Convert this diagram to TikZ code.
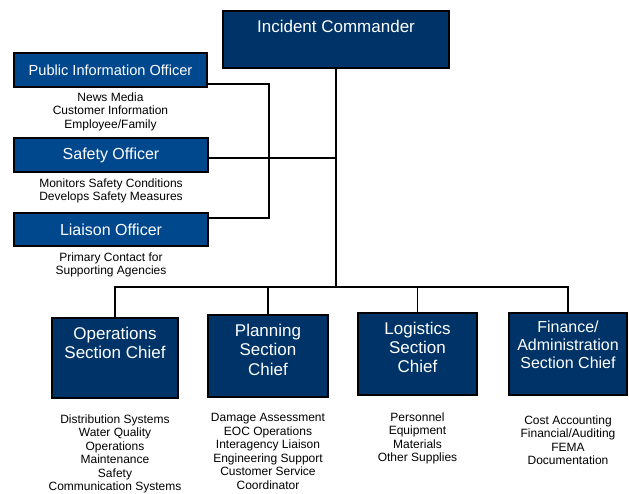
\documentclass[tikz,border=0pt]{standalone}
\usepackage{fontspec}
\setmainfont{Liberation Sans}
\usetikzlibrary{positioning}
\definecolor{chiefnavy}{RGB}{0,52,104}
\definecolor{officerblue}{RGB}{0,72,142}

\begin{document}
\begin{tikzpicture}[
    x=1pt, y=-1pt,
    link/.style={draw=black, line width=1.6pt},
    box/.style={draw=black, line width=1.8pt, inner sep=0pt, text=white},
    chief/.style={box, fill=chiefnavy},
    officer/.style={box, fill=officerblue, font=\fontsize{16}{18}\selectfont},
    title/.style={text=white, align=center, inner sep=0pt, font=\fontsize{17}{19.2}\selectfont},
    duties/.style={align=center, inner sep=0pt, font=\fontsize{12}{13.5}\selectfont},
    ]

\useasboundingbox (0,0) rectangle (629,493);

% command and staff
\node[chief, minimum width=226pt, minimum height=57pt] at (336,39.5) (ic) {};
\node[title, below=10pt of ic.north] (ic-title) {Incident Commander};

\node[officer, minimum width=193pt, minimum height=34pt,
    font=\fontsize{14.6}{17}\selectfont] at (110.5,70) (pio)
    {Public Information Officer};
\node[duties, below=4.5pt of pio] (pio-duties)
    {News Media\\Customer Information\\Employee/Family};

\node[officer, minimum width=194pt, minimum height=34pt] at (111,155) (safety)
    {Safety Officer};
\node[duties, below=5.5pt of safety] (safety-duties)
    {Monitors Safety Conditions\\Develops Safety Measures};

\node[officer, minimum width=194pt, minimum height=33pt] at (111,229.5) (liaison)
    {Liaison Officer};
\node[duties, below=5.5pt of liaison] (liaison-duties)
    {Primary Contact for\\Supporting Agencies};

% general staff
\node[chief, minimum width=126pt, minimum height=80pt] at (115,358) (ops) {};
\node[title, below=10pt of ops.north] (ops-title) {Operations\\Section Chief};
\node[duties, below=15.5pt of ops] (ops-duties)
    {Distribution Systems\\Water Quality\\Operations\\Maintenance\\Safety\\Communication Systems};

\node[chief, minimum width=120pt, minimum height=82pt] at (268,356) (planning) {};
\node[title, below=10pt of planning.north] (planning-title) {Planning\\Section\\Chief};
\node[duties, below=15.5pt of planning] (planning-duties)
    {Damage Assessment\\EOC Operations\\Interagency Liaison\\Engineering Support\\Customer Service\\Coordinator};

\node[chief, minimum width=119pt, minimum height=82pt] at (417.5,354) (logistics) {};
\node[title, below=9.5pt of logistics.north] (logistics-title) {Logistics\\Section\\Chief};
\node[duties, below=16.5pt of logistics] (logistics-duties)
    {Personnel\\Equipment\\Materials\\Other Supplies};

\node[chief, minimum width=118pt, minimum height=82pt] at (568,354) (finance) {};
\node[title, below=9pt of finance.north, font=\fontsize{16}{18}\selectfont] (finance-title)
    {Finance/\\Administration\\Section Chief};
\node[duties, below=19.5pt of finance] (finance-duties)
    {Cost Accounting\\Financial/Auditing\\FEMA\\Documentation};

\coordinate (staffline) at (269,150);
\coordinate (bus) at (336,287);

\draw[link] ([yshift=-14pt]pio.east) -| (staffline) |- ([yshift=11.5pt]liaison.east);
\draw[link] ([yshift=-3pt]safety.east) -- ([yshift=-3pt]safety.east -| ic.south);
\draw[link] (ic.south) -- (bus);
\draw[link] (ops.north) |- (bus) -| (finance.north);
\draw[link] (planning.north) -- (planning.north |- bus);
\draw[link] (logistics.north) -- (logistics.north |- bus);

\end{tikzpicture}
\end{document}
